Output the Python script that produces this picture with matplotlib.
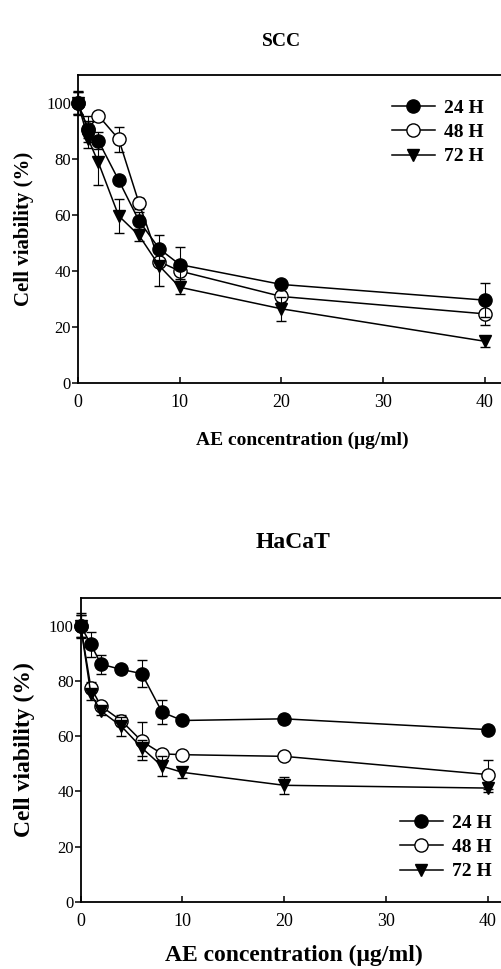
import numpy as np
import matplotlib
matplotlib.use("Agg")
import matplotlib.pyplot as plt

plt.rcParams['font.family'] = ['Liberation Serif', 'DejaVu Serif']

conc = [0, 1, 2, 4, 6, 8, 10, 20, 40]
labels = ['24 H', '48 H', '72 H']

# SCC cell viability (%) and error
scc_24 = [100, 90.5, 86.6, 72.5, 58.0, 48.0, 42.4, 35.3, 29.7]
scc_48 = [100, 90.8, 95.6, 87.2, 64.3, 43.4, 40.1, 31.0, 24.8]
scc_72 = [100, 87.2, 78.9, 59.8, 52.8, 41.9, 34.3, 26.6, 15.0]
scc_24_err = [4.3, 3.0, 3.0, 1.5, 3.0, 5.0, 6.3, 1.0, 6.2]
scc_48_err = [4.0, 4.5, 1.0, 4.5, 2.0, 1.0, 3.0, 2.0, 4.0]
scc_72_err = [4.0, 3.0, 8.0, 6.0, 2.0, 7.0, 2.3, 4.2, 2.0]

# HaCaT cell viability (%) and error
hacat_24 = [100, 93.3, 86.1, 84.2, 82.7, 68.7, 65.7, 66.3, 62.4]
hacat_48 = [100, 77.6, 70.9, 65.6, 58.2, 53.6, 53.3, 52.7, 46.1]
hacat_72 = [100, 75.2, 69.1, 63.6, 55.8, 49.1, 46.9, 42.2, 41.2]
hacat_24_err = [4.5, 4.6, 3.4, 1.0, 4.8, 4.3, 1.0, 1.5, 1.0]
hacat_48_err = [4.0, 2.0, 1.5, 2.0, 7.0, 1.0, 1.5, 1.0, 5.4]
hacat_72_err = [4.0, 2.0, 1.5, 3.5, 3.0, 3.7, 2.0, 3.0, 1.5]

W, H = 502, 969
fig = plt.figure(figsize=(W / 100, H / 100), dpi=100)


def add_panel(left, bottom_px, top_px, series, errs, legend_pos, title, title_pos,
              title_size, xlabel_pos, xlabel_size, ylabel_size):
    ax = fig.add_axes([left / W, (H - bottom_px) / H, (42 * 10.175) / W, (bottom_px - top_px) / H])
    styles = [
        dict(marker='o', mfc='black', mec='black', ms=9.5, zorder=4),
        dict(marker='o', mfc='white', mec='black', ms=9.5, zorder=3),
        dict(marker='v', mfc='black', mec='black', ms=8.5, zorder=5),
    ]
    for y, e, lab, st in zip(series, errs, labels, styles):
        cont = ax.errorbar(conc, y, yerr=e, color='black', lw=1.1, mew=1.0,
                           elinewidth=0.8, capsize=3.5, capthick=0.8, label=lab, **st)
        line, caps, bars = cont.lines
        for art in [line, *caps, *bars]:
            art.set_clip_on(False)
    ax.set_xlim(0, 42)
    ax.set_ylim(0, 110)
    ax.set_xticks([0, 10, 20, 30, 40])
    ax.set_yticks([0, 20, 40, 60, 80, 100])
    ax.tick_params(axis='x', direction='in', length=4, width=1.1, labelsize=13, pad=8)
    ax.tick_params(axis='y', direction='out', length=4, width=1.1, labelsize=12, pad=1)
    for s in ax.spines.values():
        s.set_linewidth(1.3)
    handles, labs = ax.get_legend_handles_labels()
    handles = [h[0] for h in handles]
    ax.legend(handles, labs, loc='upper left', bbox_to_anchor=legend_pos,
              bbox_transform=fig.transFigure, frameon=False, borderpad=0,
              borderaxespad=0, handlelength=2.2, handletextpad=0.45,
              labelspacing=0.35, prop=dict(weight='bold', size=14))
    fig.text(title_pos[0] / W, 1 - title_pos[1] / H, title, ha='center', va='center',
             fontsize=title_size, fontweight='bold')
    fig.text(xlabel_pos[0] / W, 1 - xlabel_pos[1] / H, 'AE concentration (\u03bcg/ml)',
             ha='center', va='center', fontsize=xlabel_size, fontweight='bold')
    fig.text(24 / W, 1 - (top_px + bottom_px) / 2 / H, 'Cell viability (%)', ha='center',
             va='center', rotation=90, fontsize=ylabel_size, fontweight='bold')
    return ax


add_panel(78, 383.3, 75.3, [scc_24, scc_48, scc_72],
          [scc_24_err, scc_48_err, scc_72_err],
          (392 / W, 1 - 99 / H), 'SCC', (282, 41), 14, (302, 440), 14, 15)
add_panel(80.7, 901.7, 598.3, [hacat_24, hacat_48, hacat_72],
          [hacat_24_err, hacat_48_err, hacat_72_err],
          (400 / W, 1 - 814 / H), 'HaCaT', (293, 543), 17, (294, 955), 17, 17)

fig.savefig('out.png', dpi=100)
